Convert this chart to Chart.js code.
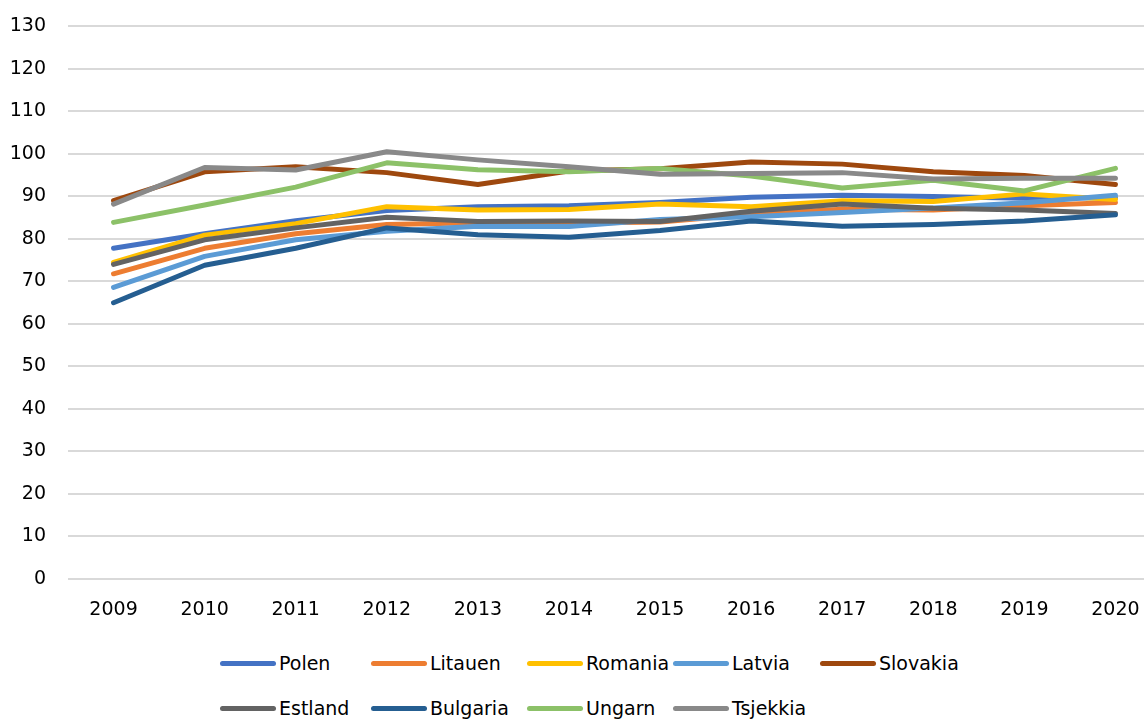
<!DOCTYPE html>
<html>
<head>
<meta charset="utf-8">
<script src="https://cdn.jsdelivr.net/npm/chart.js@4"></script>
<style>
  html, body { margin: 0; padding: 0; background: #fff; overflow: hidden; }
  body { width: 1144px; height: 719px; position: relative; }
  #wrap { position: absolute; left: 0; top: -7px; width: 1161px; height: 647px; }
  #legend { position: absolute; left: 220px; top: 650px; font-family: "DejaVu Sans", sans-serif; font-size: 19px; color: #000; }
  .row { height: 45px; position: relative; }
  .item { position: absolute; top: 0; height: 26px; display: flex; align-items: center; }
  .swatch { width: 56px; height: 5px; border-radius: 3px; margin-right: 3px; }
</style>
</head>
<body>
<div id="wrap"><canvas id="canvas"></canvas></div>
<div id="legend"></div>
<script>
// years on the x axis
let years = ['2009', '2010', '2011', '2012', '2013', '2014', '2015', '2016', '2017', '2018', '2019', '2020'];

// values
let polen    = [77.8, 81.2, 84.3, 86.7, 87.6, 87.8, 88.6, 89.8, 90.3, 90.0, 89.6, 89.7];
let litauen  = [71.8, 77.8, 81.2, 83.4, 83.8, 83.7, 84.0, 85.8, 87.0, 86.8, 87.8, 88.6];
let romania  = [74.5, 80.9, 83.6, 87.6, 86.8, 86.9, 88.2, 87.6, 89.0, 88.8, 90.6, 89.3];
let latvia   = [68.6, 75.9, 79.8, 81.8, 83.0, 82.9, 84.6, 85.2, 86.2, 87.3, 88.5, 90.3];
let slovakia = [89.0, 95.8, 97.0, 95.6, 92.8, 96.0, 96.5, 98.1, 97.6, 95.8, 94.9, 92.8];
let estland  = [74.0, 79.8, 82.6, 85.1, 84.1, 84.2, 84.1, 86.5, 88.2, 87.2, 86.8, 86.0];
let bulgaria = [65.0, 73.8, 77.8, 82.6, 81.0, 80.4, 82.0, 84.2, 83.0, 83.4, 84.2, 85.7];
let ungarn   = [83.9, 88.0, 92.2, 97.9, 96.3, 95.8, 96.6, 94.8, 92.0, 93.8, 91.3, 96.6];
let tsjekkia = [88.2, 96.8, 96.2, 100.5, 98.6, 97.0, 95.2, 95.4, 95.6, 94.1, 94.3, 94.3];

let names = ['Polen', 'Litauen', 'Romania', 'Latvia', 'Slovakia', 'Estland', 'Bulgaria', 'Ungarn', 'Tsjekkia'];
let series = [polen, litauen, romania, latvia, slovakia, estland, bulgaria, ungarn, tsjekkia];
let colors = ['#4472C4', '#ED7D31', '#FFC000', '#5B9BD5', '#9E480E', '#636363', '#255E91', '#8CC168', '#898989'];

let yMin = 0, yMax = 130, yStep = 10;

window.onload = function () {
    let ctx = document.getElementById('canvas').getContext('2d');
    let datasets = series.map((vals, i) => ({
        label: names[i],
        data: vals,
        borderColor: colors[i],
        backgroundColor: colors[i],
        borderWidth: 5,
        pointRadius: 0,
        tension: 0,
        borderCapStyle: 'round',
        borderJoinStyle: 'round',
        order: series.length - i   // later series on top, like the original
    }));

    new Chart(ctx, {
        type: 'line',
        data: { labels: years, datasets: datasets },
        options: {
            responsive: true,
            maintainAspectRatio: false,
            animation: false,
            layout: { padding: { top: 18, left: 10, right: 0, bottom: 19 } },
            plugins: { legend: { display: false }, tooltip: { enabled: false } },
            scales: {
                x: {
                    offset: true,
                    grid: { display: false, drawTicks: false },
                    border: { display: false },
                    ticks: { color: '#000', padding: 20, font: { family: 'DejaVu Sans', size: 19 } },
                    afterFit: function (scale) { scale.height = 42; }
                },
                y: {
                    min: yMin,
                    max: yMax,
                    grid: { color: '#d9d9d9', lineWidth: 2, drawTicks: false },
                    border: { display: false },
                    ticks: { stepSize: yStep, color: '#000', padding: 22, font: { family: 'DejaVu Sans', size: 19 } },
                    afterFit: function (scale) { scale.width = 58; }
                }
            }
        }
    });

    // legend in fixed columns, like the original
    let legend = document.getElementById('legend');
    let cols = [0, 151, 307, 453, 600];
    let perRow = 5;
    for (let r = 0; r * perRow < names.length; r++) {
        let row = document.createElement('div');
        row.className = 'row';
        for (let c = 0; c < perRow && r * perRow + c < names.length; c++) {
            let i = r * perRow + c;
            let item = document.createElement('div');
            item.className = 'item';
            item.style.left = cols[c] + 'px';
            item.innerHTML = '<span class="swatch" style="background:' + colors[i] + '"></span>' + names[i];
            row.appendChild(item);
        }
        legend.appendChild(row);
    }
}
</script>
</body>
</html>
